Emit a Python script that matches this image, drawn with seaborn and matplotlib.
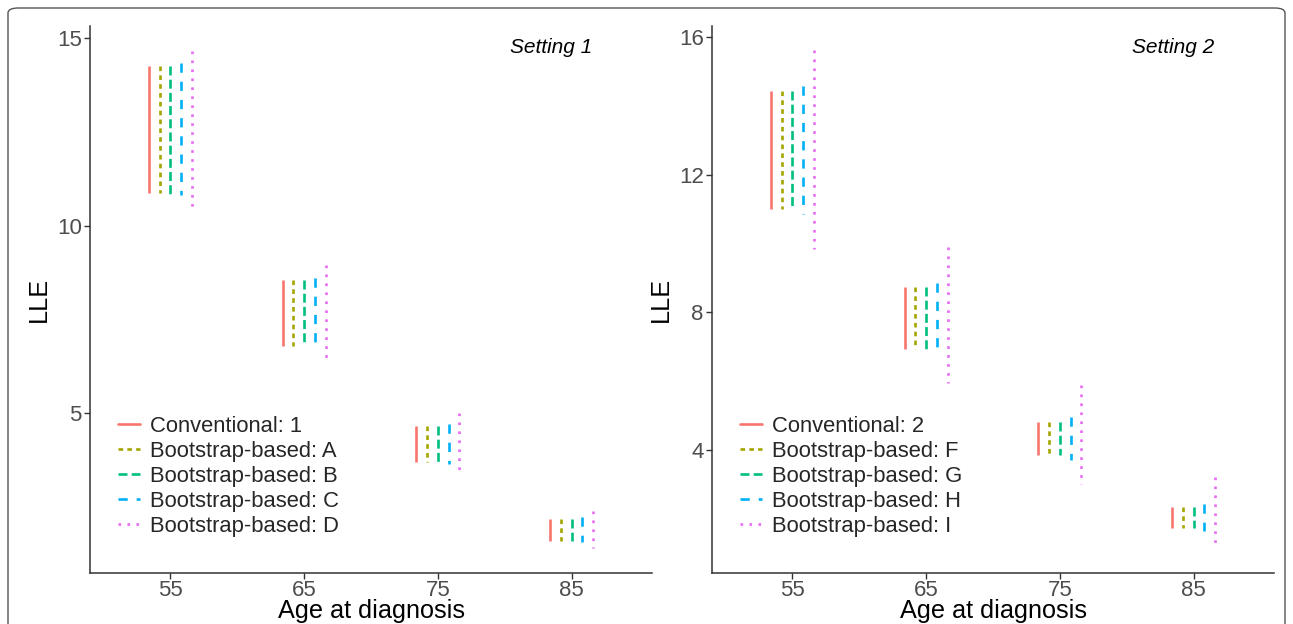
import numpy as np
import pandas as pd
import seaborn as sns
import matplotlib.pyplot as plt
from matplotlib.lines import Line2D
from matplotlib.patches import FancyBboxPatch

sns.set_theme(style="ticks")
plt.rcParams['font.family'] = ['Liberation Sans', 'DejaVu Sans']

ages = ["55", "65", "75", "85"]

methods1 = ["Conventional: 1", "Bootstrap-based: A", "Bootstrap-based: B",
            "Bootstrap-based: C", "Bootstrap-based: D"]
methods2 = ["Conventional: 2", "Bootstrap-based: F", "Bootstrap-based: G",
            "Bootstrap-based: H", "Bootstrap-based: I"]

# Setting 1: lower / upper per method, by age (55, 65, 75, 85)
s1_conv_lo = [10.87, 6.79, 3.70, 1.60]
s1_conv_hi = [14.26, 8.55, 4.66, 2.18]
s1_A_lo = [10.87, 6.79, 3.70, 1.60]
s1_A_hi = [14.26, 8.55, 4.66, 2.18]
s1_B_lo = [10.85, 6.79, 3.70, 1.60]
s1_B_hi = [14.26, 8.55, 4.66, 2.18]
s1_C_lo = [10.81, 6.76, 3.66, 1.58]
s1_C_hi = [14.33, 8.62, 4.72, 2.23]
s1_D_lo = [10.43, 6.41, 3.38, 1.41]
s1_D_hi = [14.66, 8.96, 5.02, 2.40]

# Setting 2
s2_conv_lo = [11.01, 6.92, 3.85, 1.74]
s2_conv_hi = [14.44, 8.72, 4.82, 2.33]
s2_F_lo = [11.00, 6.92, 3.85, 1.74]
s2_F_hi = [14.44, 8.72, 4.82, 2.33]
s2_G_lo = [11.00, 6.94, 3.85, 1.74]
s2_G_hi = [14.44, 8.72, 4.82, 2.33]
s2_H_lo = [10.85, 6.78, 3.70, 1.64]
s2_H_hi = [14.58, 8.86, 4.96, 2.44]
s2_I_lo = [9.83, 5.93, 3.01, 1.14]
s2_I_hi = [15.62, 9.90, 5.88, 3.20]

colors = ["#F8766D", "#A3A500", "#00BF7D", "#00B0F6", "#E76BF3"]
dash_styles = ["", (1.75, 1.6), (3.4, 1.6), (3.5, 3.4), (1.0, 2.4)]
offsets = [-0.16, -0.08, 0.0, 0.08, 0.16]
LW = 1.9

setting1 = list(zip(methods1,
                    [s1_conv_lo, s1_A_lo, s1_B_lo, s1_C_lo, s1_D_lo],
                    [s1_conv_hi, s1_A_hi, s1_B_hi, s1_C_hi, s1_D_hi]))
setting2 = list(zip(methods2,
                    [s2_conv_lo, s2_F_lo, s2_G_lo, s2_H_lo, s2_I_lo],
                    [s2_conv_hi, s2_F_hi, s2_G_hi, s2_H_hi, s2_I_hi]))


def build_df(setting):
    rows = []
    for m, (name, lo, hi) in enumerate(setting):
        for i, age in enumerate(ages):
            grp = f"{name}_{age}"
            rows.append(dict(method=name, grp=grp, pos=i + offsets[m], LLE=hi[i]))
            rows.append(dict(method=name, grp=grp, pos=i + offsets[m], LLE=lo[i]))
    return pd.DataFrame(rows)


fig = plt.figure(figsize=(12.93, 6.24), dpi=100)
W, H = 1293, 624
ax1 = fig.add_axes([90 / W, 1 - 573 / H, (652 - 90) / W, (573 - 26) / H])
ax2 = fig.add_axes([712 / W, 1 - 573 / H, (1274 - 712) / W, (573 - 26) / H])

panels = [(ax1, setting1, methods1, "Setting 1", [5, 10, 15], (0.75, 15.32)),
          (ax2, setting2, methods2, "Setting 2", [4, 8, 12, 16], (0.42, 16.32))]

for ax, setting, methods, title, yticks, ylim in panels:
    df = build_df(setting)
    sns.lineplot(data=df, x="pos", y="LLE", hue="method", style="method",
                 units="grp", estimator=None, sort=False,
                 hue_order=methods, style_order=methods,
                 palette=dict(zip(methods, colors)),
                 dashes=dict(zip(methods, dash_styles)),
                 linewidth=LW, legend=False, ax=ax)
    for ln in ax.get_lines():
        ln.set_dash_capstyle("butt")
        ln.set_solid_capstyle("butt")
    ax.set_xlim(-0.6, 3.6)
    ax.set_ylim(*ylim)
    ax.set_xticks(range(len(ages)))
    ax.set_xticklabels(ages)
    ax.set_yticks(yticks)
    ax.tick_params(axis="both", labelsize=16, labelcolor="#4D4D4D",
                   color="#333333", length=4, width=1, pad=2)
    ax.tick_params(axis="x", pad=1)
    for s in ["top", "right"]:
        ax.spines[s].set_visible(False)
    for s in ["left", "bottom"]:
        ax.spines[s].set_color("#333333")
        ax.spines[s].set_linewidth(1.1)
    ax.set_xlabel("Age at diagnosis", fontsize=18.2, color="black")
    ax.xaxis.label.set_va("center")
    ax.xaxis.set_label_coords(0.5, (573 - 611) / 547)
    ax.set_ylabel("LLE", fontsize=18.2, color="black", labelpad=4)
    ax.text(0.893, 0.96, title, transform=ax.transAxes, ha="right", va="center",
            fontsize=15, style="italic", color="black")
    handles = [Line2D([0], [0], color=c, lw=LW, linestyle="-" if d == "" else (0, d),
                      dash_capstyle="butt") for c, d in zip(colors, dash_styles)]
    ax.legend(handles, methods, loc="upper left", bbox_to_anchor=(0.05, 0.287),
              frameon=False, fontsize=15.8, handlelength=1.0, handletextpad=0.45,
              labelspacing=0.18, borderpad=0, borderaxespad=0)
    ax.set_facecolor("white")

border = FancyBboxPatch((8 / W, -0.2), (1285 - 8) / W, 1 - 8 / H + 0.2,
                        boxstyle="round,pad=0,rounding_size=0.008",
                        transform=fig.transFigure, fill=False,
                        edgecolor="#555555", linewidth=1.0)
fig.patches.append(border)

fig.savefig("out.png", dpi=100, facecolor="white")
